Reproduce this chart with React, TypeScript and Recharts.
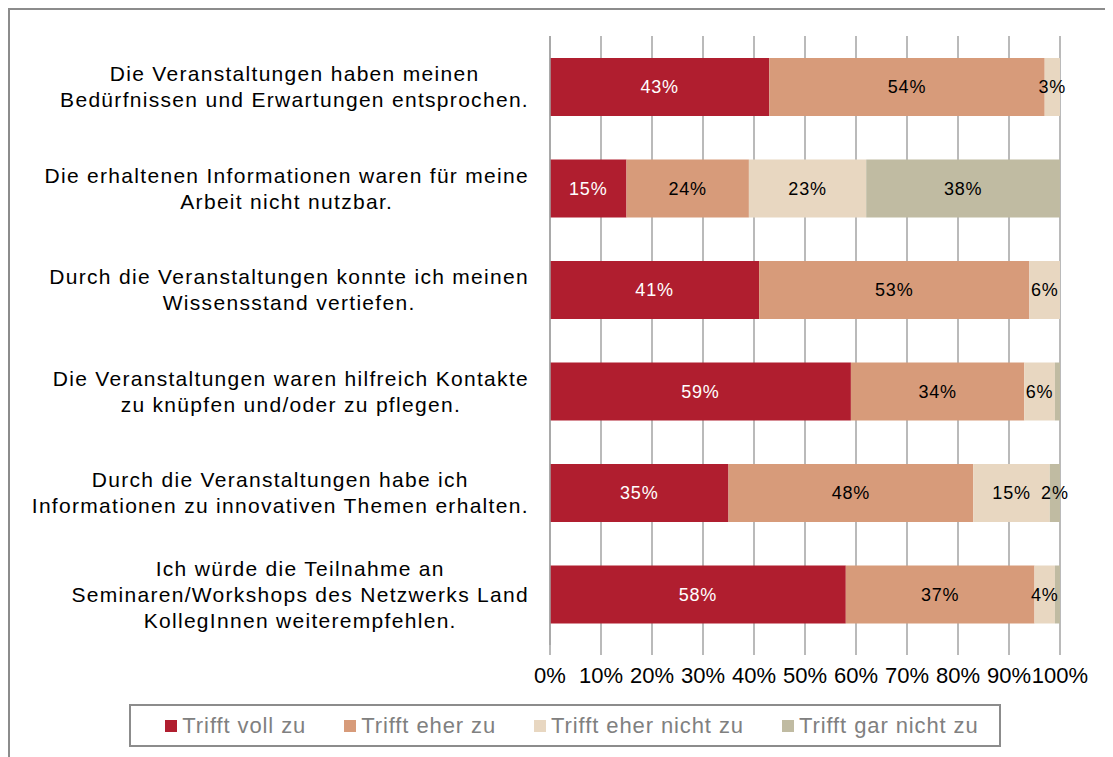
import { Bar, BarChart, CartesianGrid, LabelList, Legend, XAxis, YAxis } from "recharts"

const categories = [
  "Die Veranstaltungen haben meinen\nBedürfnissen und Erwartungen entsprochen.",
  "Die erhaltenen Informationen waren für meine\nArbeit nicht nutzbar.",
  "Durch die Veranstaltungen konnte ich meinen\nWissensstand vertiefen.",
  "Die Veranstaltungen waren hilfreich Kontakte\nzu knüpfen und/oder zu pflegen.",
  "Durch die Veranstaltungen habe ich\nInformationen zu innovativen Themen erhalten.",
  "Ich würde die Teilnahme an\nSeminaren/Workshops des Netzwerks Land\nKollegInnen weiterempfehlen.",
]

const vollZu = [43, 15, 41, 59, 35, 58]
const eherZu = [54, 24, 53, 34, 48, 37]
const eherNichtZu = [3, 23, 6, 6, 15, 4]
const garNichtZu = [0, 38, 0, 1, 2, 1]

const seriesKeys = ["voll", "eher", "eherNicht", "garNicht"]
const seriesNames = ["Trifft voll zu", "Trifft eher zu", "Trifft eher nicht zu", "Trifft gar nicht zu"]
const seriesColors = ["#b01e2f", "#d79b7a", "#e8d7c1", "#c0bba2"]
const labelColors = ["#fff", "#000", "#000", "#000"]

const xTicks = [0, 10, 20, 30, 40, 50, 60, 70, 80, 90, 100]

const data = categories.map((name, i) => ({
  name,
  voll: vollZu[i],
  eher: eherZu[i],
  eherNicht: eherNichtZu[i],
  garNicht: garNichtZu[i],
}))

const FONT = "'Liberation Sans', Arial, sans-serif"
const GRID = "#a3a3a3"
const FRAME = "#8c8c8c"

let ctx: CanvasRenderingContext2D | null = null
function textWidth(s: string, size: number, spacing: number) {
  if (!ctx) ctx = document.createElement("canvas").getContext("2d")
  if (!ctx) return s.length * (size * 0.5 + spacing)
  ctx.font = `${size}px ${FONT}`
  return ctx.measureText(s).width + s.length * spacing
}

const LABEL_SIZE = 21
const LABEL_SPACING = 1.3
const LINE_H = 26

function CategoryTick(props: any) {
  const { y, payload } = props
  const lines: string[] = String(payload.value).split("\n")
  const maxW = Math.max(...lines.map((l) => textWidth(l, LABEL_SIZE, LABEL_SPACING)))
  const right = 521
  const cx = right - maxW / 2
  const top = y - ((lines.length - 1) * LINE_H) / 2
  return (
    <text
      x={cx}
      y={top}
      textAnchor="middle"
      fontSize={LABEL_SIZE}
      fill="#000"
      fontFamily={FONT}
      style={{ letterSpacing: LABEL_SPACING }}
    >
      {lines.map((l, i) => (
        <tspan key={i} x={cx} y={top + i * LINE_H} dy="0.35em">
          {l}
        </tspan>
      ))}
    </text>
  )
}

function LegendBox() {
  return (
    <div
      style={{
        boxSizing: "border-box",
        width: 872,
        height: 43,
        border: `2px solid ${FRAME}`,
        paddingLeft: 14,
        display: "flex",
        alignItems: "center",
        justifyContent: "center",
        gap: 38,
        fontFamily: FONT,
        fontSize: 22,
        color: "#808080",
        letterSpacing: 0.9,
      }}
    >
      {seriesNames.map((n, i) => (
        <div key={n} style={{ display: "flex", alignItems: "center" }}>
          <span style={{ width: 12, height: 12, background: seriesColors[i], marginRight: 5, display: "inline-block" }} />
          <span>{n}</span>
        </div>
      ))}
    </div>
  )
}

const pct = (v: any) => (Number(v) >= 2 ? `${v}%` : "")

export default function App() {
  return (
    <div style={{ position: "relative", width: 1105, height: 749, fontFamily: FONT }}>
      <div
        style={{
          position: "absolute",
          left: 0,
          top: 0,
          width: 1105,
          height: 749,
          borderTop: `2px solid ${FRAME}`,
          borderLeft: `2px solid ${FRAME}`,
          boxSizing: "border-box",
        }}
      />
      <div style={{ position: "absolute", left: 0, top: 0 }}>
        <BarChart
          width={1105}
          height={749}
          data={data}
          layout="vertical"
          margin={{ top: 28, right: 53, left: 0, bottom: 52 }}
        >
          <CartesianGrid horizontal={false} stroke={GRID} strokeWidth={1.5} />
          <XAxis
            type="number"
            domain={[0, 100]}
            ticks={xTicks}
            tickFormatter={(v) => `${v}%`}
            axisLine={false}
            tickLine={{ stroke: GRID, strokeWidth: 1.5 }}
            tickSize={10}
            tickMargin={12}
            height={60}
            tick={{ fontSize: 22, fill: "#000", fontFamily: FONT }}
            interval={0}
          />
          <YAxis
            type="category"
            dataKey="name"
            width={542}
            axisLine={{ stroke: GRID, strokeWidth: 1.5 }}
            tickLine={false}
            tick={<CategoryTick />}
            interval={0}
          />
          <Legend
            verticalAlign="middle"
            layout="horizontal"
            content={<LegendBox />}
            wrapperStyle={{ left: 121, top: 696, width: 872, height: 43 }}
          />
          {seriesKeys.map((k, i) => (
            <Bar
              key={k}
              dataKey={k}
              name={seriesNames[i]}
              stackId="a"
              fill={seriesColors[i]}
              barSize={58}
              isAnimationActive={false}
            >
              <LabelList
                dataKey={k}
                position="center"
                formatter={pct}
                fill={labelColors[i]}
                fontSize={18}
                fontFamily={FONT}
                style={{ letterSpacing: 0.8 }}
              />
            </Bar>
          ))}
        </BarChart>
      </div>
    </div>
  )
}
